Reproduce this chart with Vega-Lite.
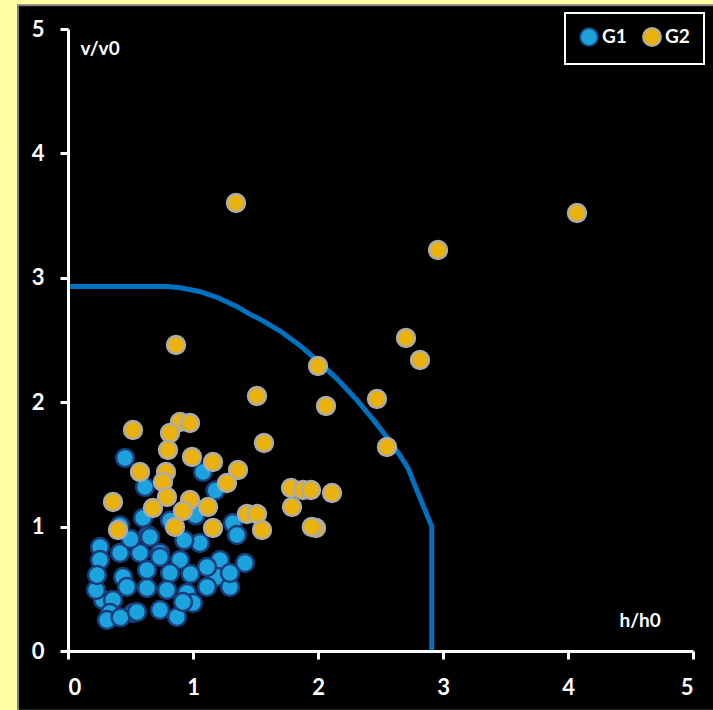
{
  "$schema": "https://vega.github.io/schema/vega-lite/v6.json",
  "width": 625,
  "height": 622,
  "autosize": {"type": "none"},
  "padding": {"left": 68, "top": 29, "right": 20, "bottom": 59},
  "background": "#FFFFA6",
  "datasets": {
    "frame": [{"x1": -0.4, "x2": 5.17, "y1": -0.48, "y2": 5.19}],
    "curve": [
      {"i": 1, "h": 0, "v": 2.93},
      {"i": 2, "h": 0.8, "v": 2.93},
      {"i": 3, "h": 0.9, "v": 2.92},
      {"i": 4, "h": 1.05, "v": 2.89},
      {"i": 5, "h": 1.2, "v": 2.84},
      {"i": 6, "h": 1.35, "v": 2.77},
      {"i": 7, "h": 1.45, "v": 2.71},
      {"i": 8, "h": 1.55, "v": 2.66},
      {"i": 9, "h": 1.7, "v": 2.57},
      {"i": 10, "h": 1.85, "v": 2.46},
      {"i": 11, "h": 2.0, "v": 2.33},
      {"i": 12, "h": 2.15, "v": 2.19},
      {"i": 13, "h": 2.3, "v": 2.03},
      {"i": 14, "h": 2.45, "v": 1.85},
      {"i": 15, "h": 2.55, "v": 1.72},
      {"i": 16, "h": 2.65, "v": 1.58},
      {"i": 17, "h": 2.72, "v": 1.47},
      {"i": 18, "h": 2.8, "v": 1.27},
      {"i": 19, "h": 2.91, "v": 1.0},
      {"i": 20, "h": 2.91, "v": 0}
    ],
    "pts": [
      {"group": "G1", "h": 0.456, "v": 1.551},
      {"group": "G1", "h": 0.616, "v": 1.318},
      {"group": "G1", "h": 1.08, "v": 1.439},
      {"group": "G1", "h": 0.64, "v": 0.932},
      {"group": "G1", "h": 0.256, "v": 0.836},
      {"group": "G1", "h": 0.416, "v": 0.788},
      {"group": "G1", "h": 0.576, "v": 0.788},
      {"group": "G1", "h": 0.736, "v": 0.788},
      {"group": "G1", "h": 0.896, "v": 0.732},
      {"group": "G1", "h": 1.056, "v": 0.868},
      {"group": "G1", "h": 1.216, "v": 0.732},
      {"group": "G1", "h": 1.32, "v": 1.029},
      {"group": "G1", "h": 1.416, "v": 0.707},
      {"group": "G1", "h": 0.256, "v": 0.732},
      {"group": "G1", "h": 0.44, "v": 0.595},
      {"group": "G1", "h": 0.632, "v": 0.651},
      {"group": "G1", "h": 0.816, "v": 0.627},
      {"group": "G1", "h": 1.192, "v": 0.595},
      {"group": "G1", "h": 0.28, "v": 0.41},
      {"group": "G1", "h": 0.36, "v": 0.41},
      {"group": "G1", "h": 0.472, "v": 0.514},
      {"group": "G1", "h": 0.632, "v": 0.506},
      {"group": "G1", "h": 0.792, "v": 0.49},
      {"group": "G1", "h": 0.952, "v": 0.466},
      {"group": "G1", "h": 1.112, "v": 0.514},
      {"group": "G1", "h": 1.296, "v": 0.514},
      {"group": "G1", "h": 0.336, "v": 0.305},
      {"group": "G1", "h": 0.52, "v": 0.305},
      {"group": "G1", "h": 0.736, "v": 0.33},
      {"group": "G1", "h": 0.872, "v": 0.273},
      {"group": "G1", "h": 1.0, "v": 0.386},
      {"group": "G1", "h": 1.112, "v": 0.675},
      {"group": "G1", "h": 0.656, "v": 0.916},
      {"group": "G1", "h": 1.352, "v": 0.932},
      {"group": "G1", "h": 0.736, "v": 0.756},
      {"group": "G1", "h": 0.312, "v": 0.249},
      {"group": "G1", "h": 0.42, "v": 0.27},
      {"group": "G1", "h": 0.552, "v": 0.313},
      {"group": "G1", "h": 0.92, "v": 0.394},
      {"group": "G1", "h": 1.296, "v": 0.627},
      {"group": "G1", "h": 0.224, "v": 0.49},
      {"group": "G1", "h": 0.232, "v": 0.611},
      {"group": "G1", "h": 0.6, "v": 1.07},
      {"group": "G1", "h": 1.02, "v": 1.09},
      {"group": "G1", "h": 1.18, "v": 1.29},
      {"group": "G1", "h": 0.816, "v": 1.05},
      {"group": "G1", "h": 0.416, "v": 1.01},
      {"group": "G1", "h": 0.93, "v": 0.89},
      {"group": "G1", "h": 0.5, "v": 0.9},
      {"group": "G1", "h": 0.98, "v": 0.62},
      {"group": "G2", "h": 1.344, "v": 3.601},
      {"group": "G2", "h": 4.072, "v": 3.521},
      {"group": "G2", "h": 2.96, "v": 3.223},
      {"group": "G2", "h": 2.704, "v": 2.516},
      {"group": "G2", "h": 2.816, "v": 2.339},
      {"group": "G2", "h": 0.864, "v": 2.46},
      {"group": "G2", "h": 2.0, "v": 2.291},
      {"group": "G2", "h": 2.472, "v": 2.026},
      {"group": "G2", "h": 2.064, "v": 1.969},
      {"group": "G2", "h": 1.512, "v": 2.05},
      {"group": "G2", "h": 2.552, "v": 1.64},
      {"group": "G2", "h": 1.568, "v": 1.672},
      {"group": "G2", "h": 0.52, "v": 1.777},
      {"group": "G2", "h": 0.896, "v": 1.841},
      {"group": "G2", "h": 0.976, "v": 1.833},
      {"group": "G2", "h": 0.816, "v": 1.752},
      {"group": "G2", "h": 0.8, "v": 1.616},
      {"group": "G2", "h": 0.992, "v": 1.559},
      {"group": "G2", "h": 1.16, "v": 1.519},
      {"group": "G2", "h": 1.36, "v": 1.455},
      {"group": "G2", "h": 0.576, "v": 1.439},
      {"group": "G2", "h": 0.784, "v": 1.439},
      {"group": "G2", "h": 0.76, "v": 1.359},
      {"group": "G2", "h": 1.272, "v": 1.35},
      {"group": "G2", "h": 0.36, "v": 1.198},
      {"group": "G2", "h": 0.792, "v": 1.238},
      {"group": "G2", "h": 0.68, "v": 1.15},
      {"group": "G2", "h": 0.976, "v": 1.214},
      {"group": "G2", "h": 0.92, "v": 1.125},
      {"group": "G2", "h": 1.12, "v": 1.158},
      {"group": "G2", "h": 1.784, "v": 1.31},
      {"group": "G2", "h": 1.88, "v": 1.294},
      {"group": "G2", "h": 1.944, "v": 1.294},
      {"group": "G2", "h": 2.112, "v": 1.27},
      {"group": "G2", "h": 1.792, "v": 1.158},
      {"group": "G2", "h": 1.984, "v": 0.989},
      {"group": "G2", "h": 1.95, "v": 0.997},
      {"group": "G2", "h": 1.432, "v": 1.101},
      {"group": "G2", "h": 1.512, "v": 1.101},
      {"group": "G2", "h": 1.552, "v": 0.973},
      {"group": "G2", "h": 0.4, "v": 0.973},
      {"group": "G2", "h": 0.856, "v": 0.997},
      {"group": "G2", "h": 1.16, "v": 0.989}
    ]
  },
  "config": {
    "view": {"stroke": null},
    "legend": {
      "orient": "none",
      "legendX": 497,
      "legendY": -16,
      "direction": "horizontal",
      "columns": 2,
      "fillColor": "black",
      "strokeColor": "white",
      "strokeWidth": 2,
      "padding": 14,
      "columnPadding": 12,
      "labelColor": "white",
      "labelFont": "Lato",
      "labelFontWeight": "bold",
      "labelFontSize": 19,
      "labelOffset": 3,
      "symbolSize": 320,
      "symbolStrokeWidth": 2,
      "symbolType": "circle",
      "zindex": 2
    }
  },
  "layer": [
    {
      "data": {"name": "frame"},
      "mark": {"type": "rect", "fill": "black", "stroke": "#7f7f7f", "strokeWidth": 2, "clip": false},
      "encoding": {
        "x": {
          "field": "x1", "type": "quantitative",
          "scale": {"domain": [0, 5], "nice": false},
          "axis": {
            "title": "h/h0", "zindex": 3, "grid": false, "values": [0, 1, 2, 3, 4, 5], "format": "d",
            "domainColor": "white", "domainWidth": 3, "tickColor": "white", "tickWidth": 3, "tickSize": 8,
            "labelColor": "white", "labelFont": "Lato", "labelFontWeight": "bold", "labelFontSize": 22, "labelPadding": 18,
            "titleColor": "white", "titleFont": "Lato", "titleFontWeight": "bold", "titleFontSize": 19,
            "titleX": 551, "titleY": -31, "titleAlign": "left", "titleBaseline": "middle"
          }
        },
        "x2": {"field": "x2"},
        "y": {
          "field": "y1", "type": "quantitative",
          "scale": {"domain": [0, 5], "nice": false},
          "axis": {
            "title": "v/v0", "zindex": 3, "grid": false, "values": [0, 1, 2, 3, 4, 5], "format": "d",
            "domainColor": "white", "domainWidth": 3, "tickColor": "white", "tickWidth": 3, "tickSize": 8,
            "labelColor": "white", "labelFont": "Lato", "labelFontWeight": "bold", "labelFontSize": 22, "labelPadding": 16,
            "titleColor": "white", "titleFont": "Lato", "titleFontWeight": "bold", "titleFontSize": 19,
            "titleAngle": 0, "titleX": 12, "titleY": 19, "titleAlign": "left", "titleBaseline": "middle"
          }
        },
        "y2": {"field": "y2"}
      }
    },
    {
      "data": {"name": "curve"},
      "mark": {"type": "line", "color": "#0070C0", "strokeWidth": 5},
      "encoding": {
        "x": {"field": "h", "type": "quantitative", "title": "h/h0"},
        "y": {"field": "v", "type": "quantitative", "title": "v/v0"},
        "order": {"field": "i", "type": "quantitative"}
      }
    },
    {
      "data": {"name": "pts"},
      "mark": {"type": "point", "filled": true, "size": 320, "strokeWidth": 2.5, "opacity": 1, "fillOpacity": 1, "strokeOpacity": 1},
      "encoding": {
        "x": {"field": "h", "type": "quantitative", "title": "h/h0"},
        "y": {"field": "v", "type": "quantitative", "title": "v/v0"},
        "fill": {"field": "group", "type": "nominal", "scale": {"domain": ["G1", "G2"], "range": ["#1CA3DD", "#E9B20E"]}, "title": null},
        "stroke": {"field": "group", "type": "nominal", "scale": {"domain": ["G1", "G2"], "range": ["#1B3C78", "#ABABAB"]}, "title": null}
      }
    }
  ]
}
